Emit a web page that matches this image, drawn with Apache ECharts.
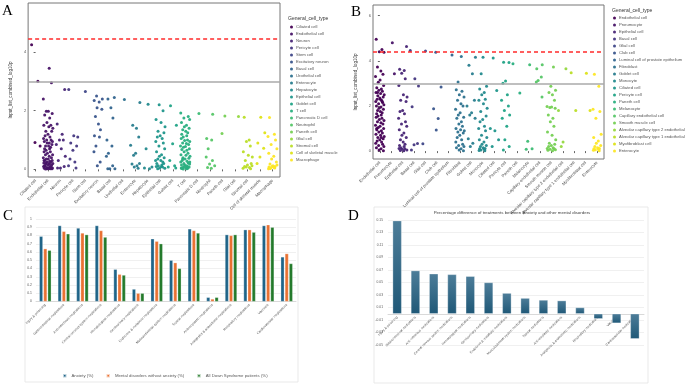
<!DOCTYPE html>
<html>
<head>
<meta charset="utf-8">
<script src="https://cdn.jsdelivr.net/npm/echarts@6/dist/echarts.min.js"></script>
<style>
    body { margin: 0; background: #fff; width: 685px; height: 384px; position: relative; overflow: hidden; }
    .panel { position: absolute; }
    #chartC { left: 0; top: 200px; width: 342px; height: 184px; }
    #chartD { left: 342px; top: 200px; width: 343px; height: 184px; }
    #chartA { left: 0; top: 0; width: 342px; height: 225px; }
    #chartB { left: 342px; top: 0; width: 343px; height: 225px; }
</style>
</head>
<body>
<div id="chartC" class="panel"></div>
<div id="chartD" class="panel"></div>
<div id="chartA" class="panel"></div>
<div id="chartB" class="panel"></div>
<script>
// ---- 数据 ----
// A 面板：细胞类型
const catsA = ['Ciliated cell', 'Endothelial cell', 'Neuron', 'Pericyte cell', 'Stem cell', 'Excitatory neuron',
    'Basal cell', 'Urothelial cell', 'Enterocyte', 'Hepatocyte', 'Epithelial cell', 'Goblet cell', 'T cell',
    'Pancreatic D cell', 'Neutrophil', 'Paneth cell', 'Glial cell', 'Stromal cell', 'Cell of skeletal muscle', 'Macrophage'];
const valsA = [
    [4.25, 3.0, 0.92, 0.8],
    [3.45, 2.95, 2.4, 1.98, 1.98, 1.9, 1.85, 1.75, 1.6, 1.5, 1.5, 1.45, 1.4, 1.3, 1.3, 1.2, 1.15, 1.1, 1.05, 1.0, 1.0, 0.95, 0.95, 0.9, 0.9, 0.85, 0.8, 0.8, 0.75, 0.7, 0.7, 0.65, 0.6, 0.6, 0.55, 0.5, 0.5, 0.45, 0.4, 0.4, 0.35, 0.35, 0.3, 0.3, 0.28, 0.25, 0.25, 0.22, 0.2, 0.2, 0.18, 0.15, 0.15, 0.12, 0.1, 0.1, 0.08, 0.06, 0.05, 0.04, 0.03, 0.02, 0.02, 0.01, 0.05, 0.08, 0.12, 0.18, 0.22, 0.3, 0.02, 0.04],
    [2.72, 1.55, 1.2, 1.0, 1.0, 0.85, 0.7, 0.45, 0.3, 0.1, 0.05, 0.05],
    [2.72, 1.15, 1.1, 0.9, 0.8, 0.65, 0.35, 0.25, 0.12, 0.05],
    [2.65],
    [2.5, 2.4, 2.35, 2.3, 2.1, 2.05, 1.8, 1.55, 1.35, 1.15, 1.1, 0.8, 0.6, 0.25, 0.12],
    [2.45, 2.4, 2.1, 1.75, 1.0, 0.8, 0.55, 0.45, 0.12, 0.02, 0.02, 0.02],
    [2.38],
    [2.28, 1.5, 1.4, 1.1, 0.82, 0.55, 0.48, 0.2, 0.18, 0.12, 0.08, 0.04],
    [2.22, 0.7, 0.08, 0.05, 0.02],
    [2.2, 2.0, 1.7, 1.6, 1.45, 1.3, 1.25, 1.15, 1.1, 1.05, 0.95, 0.9, 0.8, 0.7, 0.6, 0.5, 0.45, 0.4, 0.35, 0.3, 0.25, 0.2, 0.15, 0.12, 0.1, 0.08, 0.05, 0.04, 0.02, 0.1, 0.2, 0.3],
    [2.17, 1.5, 0.87, 0.3, 0.12, 0.08, 0.05],
    [1.92, 1.8, 1.75, 1.7, 1.6, 1.5, 1.45, 1.4, 1.35, 1.3, 1.25, 1.2, 1.15, 1.1, 1.05, 1.0, 0.98, 0.95, 0.9, 0.88, 0.85, 0.8, 0.78, 0.75, 0.7, 0.68, 0.65, 0.6, 0.55, 0.5, 0.48, 0.45, 0.4, 0.38, 0.35, 0.3, 0.28, 0.25, 0.22, 0.2, 0.18, 0.15, 0.12, 0.1, 0.08, 0.06, 0.05, 0.04, 0.03, 0.02, 0.01, 0.05, 0.1, 0.15, 0.25, 0.35],
    [1.9],
    [1.88, 1.05, 1.0, 0.7, 0.42, 0.3, 0.18, 0.12, 0.06, 0.04],
    [1.82, 1.22],
    [1.8],
    [1.78, 1.0, 0.95, 0.8, 0.6, 0.48, 0.42, 0.3, 0.2, 0.15, 0.1, 0.06, 0.04, 0.02, 0.08, 0.12],
    [1.78, 1.25, 0.9, 0.72, 0.42, 0.2],
    [1.77, 1.2, 1.12, 1.0, 0.85, 0.7, 0.55, 0.45, 0.35, 0.25, 0.18, 0.12, 0.1, 0.08, 0.06, 0.04, 0.02, 0.05, 0.1, 0.15, 0.03]
];
const linesA = [4.45, 3.0]; // 红色虚线 / 灰色实线

// B 面板
const catsB = ['Endothelial cell', 'Pneumocyte', 'Epithelial cell', 'Basal cell', 'Glial cell', 'Club cell',
    'Luminal cell of prostate epithelium', 'Fibroblast', 'Goblet cell', 'Monocyte', 'Ciliated cell', 'Pericyte cell',
    'Paneth cell', 'Melanocyte', 'Capillary endothelial cell', 'Smooth muscle cell',
    'Alveolar capillary type 2 endothelial cell', 'Alveolar capillary type 1 endothelial cell', 'Myofibroblast cell', 'Enterocyte'];
const valsB = [
    [4.95, 4.5, 4.4, 4.38, 3.72, 3.55, 3.4, 3.3, 3.15, 3.05, 2.9, 2.8, 2.75, 2.7, 2.65, 2.6, 2.55, 2.5, 2.45, 2.4, 2.35, 2.3, 2.25, 2.2, 2.15, 2.1, 2.05, 2.0, 1.95, 1.9, 1.85, 1.8, 1.75, 1.7, 1.65, 1.6, 1.55, 1.5, 1.45, 1.4, 1.35, 1.3, 1.25, 1.2, 1.15, 1.1, 1.05, 1.0, 0.95, 0.9, 0.85, 0.8, 0.75, 0.7, 0.65, 0.6, 0.55, 0.5, 0.45, 0.4, 0.35, 0.3, 0.25, 0.2, 0.15, 0.1, 0.05, 0.02, 2.6, 2.3, 2.2, 1.0, 0.6],
    [4.8, 3.42],
    [4.63, 3.62, 3.57, 3.45, 3.2, 2.9, 2.5, 2.4, 2.25, 2.2, 1.8, 1.75, 1.65, 1.45, 1.3, 1.2, 1.1, 0.95, 0.8, 0.7, 0.6, 0.5, 0.4, 0.3, 0.25, 0.2, 0.15, 0.12, 0.1, 0.08, 0.05, 0.03, 0.02],
    [4.46, 3.2, 2.88, 1.96, 0.34, 0.28, 0.05],
    [4.43, 0.32],
    [4.38, 2.84, 1.87, 1.44, 0.93],
    [4.26],
    [4.19, 3.06, 2.72, 2.65, 2.5, 2.4, 2.25, 2.1, 2.0, 1.85, 1.7, 1.6, 1.5, 1.45, 1.3, 1.2, 1.1, 1.0, 0.95, 0.9, 0.85, 0.8, 0.7, 0.6, 0.5, 0.4, 0.3, 0.25, 0.2, 0.15, 0.1, 0.05, 0.02],
    [4.16, 3.8, 3.43, 2.25, 2.0, 1.7, 1.6, 1.45, 0.55, 0.35, 0.2],
    [4.16, 3.43, 2.87, 2.75, 2.6, 2.5, 2.3, 2.25, 2.1, 1.9, 1.75, 1.55, 1.4, 1.3, 1.1, 1.0, 0.9, 0.7, 0.6, 0.5, 0.4, 0.3, 0.25, 0.2, 0.15, 0.12, 0.1, 0.08, 0.05, 0.03, 0.02],
    [4.12, 2.68, 1.0, 0.9, 0.5, 0.2],
    [3.93, 3.92, 3.1, 3.0, 2.5, 2.25, 2.0, 1.8, 1.6, 1.45, 1.1, 0.5, 0.2, 0.05],
    [3.87, 2.57],
    [3.82, 0.44, 0.1, 0.08],
    [3.82, 3.65, 3.28, 3.13, 3.06, 2.4],
    [3.72, 2.87, 2.7, 2.6, 2.5, 2.25, 1.98, 1.95, 1.93, 1.9, 1.6, 1.45, 1.3, 1.1, 0.85, 0.7, 0.5, 0.35, 0.3, 0.25, 0.2, 0.15, 0.12, 0.1, 0.08, 0.06, 0.04, 0.02],
    [3.65, 1.8, 0.4, 0.2],
    [3.47, 1.8],
    [3.45, 1.8],
    [3.4, 2.87, 1.85, 1.75, 1.45, 0.75, 0.6, 0.45, 0.35, 0.25, 0.2, 0.15, 0.12, 0.1, 0.08, 0.06, 0.04, 0.02]
];
const linesB = [4.41, 3.0];

// 抖动偏移（横向散开）
const jitter = [-0.32, 0.18, -0.05, 0.36, -0.21, 0.09, 0.27, -0.38, 0.02, -0.14, 0.33, -0.27, 0.13, -0.09, 0.22,
    -0.34, 0.06, 0.38, -0.18, 0.29, -0.01, -0.24, 0.15, -0.36, 0.24, -0.11, 0.35, -0.3, 0.1, -0.07, 0.31, -0.2,
    0.04, 0.2, -0.28, 0.12, -0.16];

const viridis = ['#440154', '#481467', '#482576', '#453781', '#3f4788', '#39558c', '#32648e', '#2d718e', '#287d8e', '#238a8d',
    '#1f968b', '#20a386', '#29af7f', '#3dbc74', '#56c667', '#75d054', '#95d840', '#bade28', '#dde318', '#fde725'];

// C / D 面板
const catsC = ['Injury & poisoning', 'Gastrointestinal medications', 'Anti-infectious medications',
    'Central nervous system medications', 'Hematological medications', 'Genitourinary medications',
    'Endocrine & metabolic medications', 'Musculoskeletal system medications', 'Topical medications',
    'Antineoplastic medications', 'Analgesics & anaesthetic medications', 'Respiratory medications',
    'Vaccines', 'Cardiovascular medications'];
const anxiety = [0.79, 0.92, 0.89, 0.92, 0.39, 0.15, 0.76, 0.50, 0.88, 0.05, 0.81, 0.87, 0.92, 0.54];
const mentalNoAnx = [0.64, 0.85, 0.83, 0.86, 0.33, 0.10, 0.73, 0.47, 0.86, 0.03, 0.80, 0.87, 0.93, 0.58];
const allDS = [0.62, 0.82, 0.81, 0.78, 0.32, 0.10, 0.70, 0.40, 0.83, 0.05, 0.81, 0.84, 0.90, 0.46];
const seriesC = ['Anxiety (%)', 'Mental disorders without anxiety (%)', 'All Down Syndrome patients (%)'];
const diffD = [0.149, 0.069, 0.064, 0.063, 0.060, 0.050, 0.033, 0.025, 0.022, 0.021, 0.010, -0.008, -0.015, -0.040];
const yMinD = -0.05, yMaxD = 0.15;

const FONT = 'Liberation Sans';

// ---- 散点图（A / B）----
function scatterOption(cats, vals, hlines, cfg) {
    const series = cats.map((name, i) => ({
        name: name,
        type: 'scatter',
        symbolSize: 3,
        itemStyle: { color: viridis[i], opacity: 0.95 },
        data: vals[i].map((v, k) => [i + jitter[(k + i * 5) % jitter.length], v]),
        silent: true
    }));
    series[0].markLine = {
        silent: true,
        symbol: 'none',
        label: { show: false },
        data: [
            { yAxis: hlines[0], lineStyle: { color: '#ff2b2b', width: 1.5, type: [4, 3] } },
            { yAxis: hlines[1], lineStyle: { color: '#aaaaaa', width: 1.5, type: 'solid' } }
        ]
    };
    return {
        animation: false,
        textStyle: { fontFamily: FONT },
        grid: { left: cfg.left, top: cfg.top, width: cfg.width, height: cfg.height, show: true, borderColor: '#777', borderWidth: 1 },
        xAxis: {
            type: 'value', min: -0.6, max: cats.length - 0.4,
            axisLine: { show: false }, splitLine: { show: false },
            axisTick: { customValues: cats.map((c, i) => i), length: 2, lineStyle: { color: '#666' } },
            axisLabel: {
                customValues: cats.map((c, i) => i), formatter: v => cats[v], rotate: 45,
                fontSize: 4.2, color: '#444', margin: 3
            }
        },
        yAxis: {
            type: 'value', min: cfg.ymin, max: cfg.ymax,
            name: 'Input_list_combined_log10p', nameLocation: 'middle', nameGap: 8,
            nameTextStyle: { fontSize: 4.6, color: '#333' },
            axisLine: { show: false }, splitLine: { show: false },
            axisTick: { customValues: cfg.ticks, length: 2, lineStyle: { color: '#666' } },
            axisLabel: { customValues: cfg.ticks, fontSize: 4, color: '#555', margin: 2 }
        },
        legend: {
            data: cats, orient: 'vertical', left: cfg.legLeft, top: cfg.legTop, padding: 0,
            icon: 'circle', itemWidth: 3, itemHeight: 3, itemGap: 3,
            textStyle: { fontSize: 4.2, lineHeight: 4, color: '#555', padding: [0, 0, 0, -2] }
        },
        graphic: [
            { type: 'text', left: cfg.letterX, top: cfg.letterY, style: { text: cfg.letter, font: '15px "Liberation Serif"', fill: '#000' } },
            { type: 'text', left: cfg.legTitleX, top: cfg.legTitleY, style: { text: 'General_cell_type', font: '5px "Liberation Sans"', fill: '#333' } }
        ],
        series: series
    };
}

const chartA = echarts.init(document.getElementById('chartA'));
chartA.setOption(scatterOption(catsA, valsA, linesA, {
    left: 23, top: 3, width: 257, height: 174, ymin: -0.26, ymax: 5.67, ticks: [0, 2, 4],
    legLeft: 290, legTop: 25, legTitleX: 288, legTitleY: 16, letter: 'A', letterX: 2, letterY: 4
}));

const chartB = echarts.init(document.getElementById('chartB'));
chartB.setOption(scatterOption(catsB, valsB, linesB, {
    left: 31, top: 5, width: 231, height: 154, ymin: -0.35, ymax: 6.47, ticks: [0, 2, 4, 6],
    legLeft: 271, legTop: 16, legTitleX: 270, legTitleY: 8, letter: 'B', letterX: 9, letterY: 5
}));

// ---- 柱状图 C ----
const barColors = ['#1f6488', '#e97132', '#237a2b'];
const chartC = echarts.init(document.getElementById('chartC'));
chartC.setOption({
    animation: false,
    textStyle: { fontFamily: FONT },
    grid: { left: 36, top: 19, width: 260, height: 82.5 },
    legend: {
        data: seriesC, left: 62, top: 173, itemWidth: 3.5, itemHeight: 3.5, itemGap: 12, icon: 'rect', padding: 0,
        textStyle: { fontSize: 4.3, color: '#595959' }
    },
    xAxis: {
        type: 'category', data: catsC,
        axisLine: { lineStyle: { color: '#d9d9d9' } }, axisTick: { show: false },
        axisLabel: { interval: 0, rotate: 45, fontSize: 3.4, color: '#595959', margin: 3 }
    },
    yAxis: {
        type: 'value', min: 0, max: 1, interval: 0.1,
        axisLine: { show: false }, axisTick: { show: false },
        splitLine: { lineStyle: { color: '#e6e6e6', width: 0.6 } },
        axisLabel: { fontSize: 3.4, color: '#595959', margin: 4 }
    },
    graphic: [
        { type: 'rect', shape: { x: 25, y: 7, width: 273, height: 175 }, style: { fill: 'none', stroke: '#e3e3e3', lineWidth: 0.8 } },
        { type: 'text', left: 3, top: 9, style: { text: 'C', font: '15px "Liberation Serif"', fill: '#000' } }
    ],
    series: [anxiety, mentalNoAnx, allDS].map((d, i) => ({
        name: seriesC[i], type: 'bar', data: d, barWidth: 3.5, barGap: '20%',
        itemStyle: { color: barColors[i], borderColor: 'rgba(255,255,255,0.7)', borderWidth: 0.4 }
    }))
});

// ---- 柱状图 D ----
const gridHD = 125;
const chartD = echarts.init(document.getElementById('chartD'));
chartD.setOption({
    animation: false,
    textStyle: { fontFamily: FONT },
    title: {
        text: 'Percentage difference of treatments between Anxiety and other mental disorders',
        left: 170, top: 11, textAlign: 'center', padding: 0,
        textStyle: { fontSize: 4.4, fontWeight: 'normal', color: '#404040' }
    },
    grid: { left: 46, top: 20, width: 256, height: gridHD },
    xAxis: {
        type: 'category', data: catsC,
        // 横轴放在 0 处（Excel 样式）
        offset: -gridHD * (0 - yMinD) / (yMaxD - yMinD),
        axisLine: { onZero: false, lineStyle: { color: '#d9d9d9' } }, axisTick: { show: false },
        axisLabel: { interval: 0, rotate: 45, fontSize: 3.3, color: '#595959', margin: 3 }
    },
    yAxis: {
        type: 'value', min: yMinD, max: yMaxD, interval: 0.02,
        axisLine: { show: false }, axisTick: { show: false },
        splitLine: { lineStyle: { color: '#e6e6e6', width: 0.6 } },
        axisLabel: { fontSize: 3.3, color: '#595959', margin: 5, formatter: v => v.toFixed(2) }
    },
    graphic: [
        { type: 'rect', shape: { x: 32, y: 7, width: 274, height: 176 }, style: { fill: 'none', stroke: '#e3e3e3', lineWidth: 0.8 } },
        { type: 'text', left: 6, top: 9, style: { text: 'D', font: '15px "Liberation Serif"', fill: '#000' } }
    ],
    series: [{
        type: 'bar', data: diffD, barWidth: 9,
        itemStyle: {
            color: new echarts.graphic.LinearGradient(0, 0, 0, 1, [
                { offset: 0, color: '#4d7d99' },
                { offset: 1, color: '#1f5877' }
            ]),
            borderColor: 'rgba(255,255,255,0.6)', borderWidth: 0.5
        }
    }]
});
</script>
</body>
</html>
